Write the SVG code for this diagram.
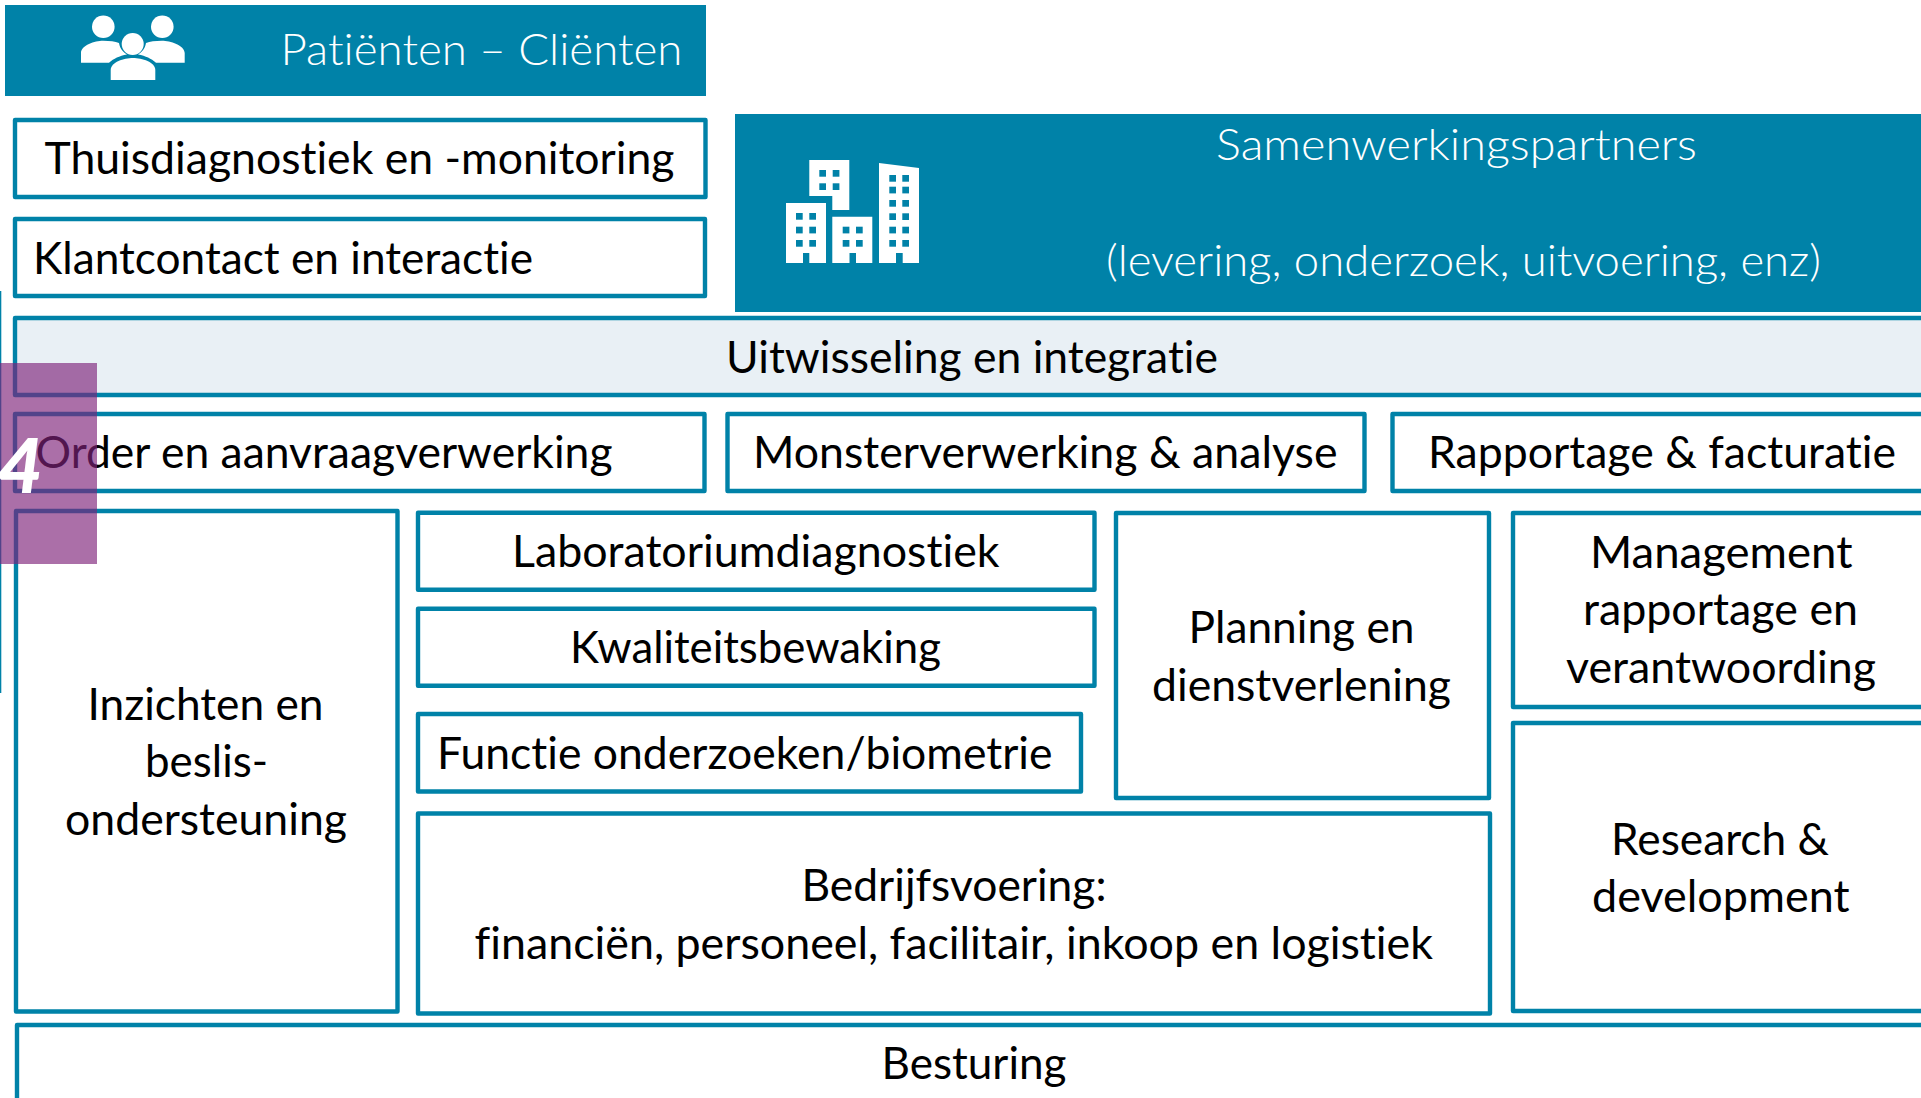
<svg xmlns="http://www.w3.org/2000/svg" width="1921" height="1098" viewBox="0 0 1921 1098">
<style>
.box{fill:#fff;stroke:#0082A8;stroke-width:4.4;stroke-linejoin:round}
.band{fill:#0082A8}
text{font-variant-ligatures:none}
.t,.l{transform:translateY(1px)}
.t{font-family:"Lato","Carlito","Liberation Sans",sans-serif;font-size:43.500px;fill:#000}
.l{font-family:"Lato","Carlito","Liberation Sans",sans-serif;font-size:44px;font-weight:300;fill:#fff}
.ic{fill:#fff}
.win{fill:#0082A8}
</style>
<defs>
<rect id="w" class="win" width="6.7" height="6.7"/>
</defs>
<rect width="1921" height="1098" fill="#fff"/>
<rect id="edge-line" x="0" y="291" width="1.3" height="402" fill="#0082A8"/>

<g id="patienten">
<rect class="band" x="5" y="5" width="701" height="91"/>
<g class="ic">
<circle cx="103.3" cy="26.7" r="11.3"/>
<circle cx="162.3" cy="26.7" r="11.3"/>
<path d="M81 62.7V53C81 45 95 40.7 103 40.7C110 40.7 115 41.5 119 43C120 49 123 52 127 54.5C119 56 114 58.500 109 62.700Z"/>
<path d="M184.700 62.700V53C184.700 45 170 40.700 162 40.700C155 40.700 150 41.500 146 43C145 49 142 52 138 54.500C146 56 151 58.500 156 62.700Z"/>
<circle cx="132.700" cy="44" r="11"/>
<path d="M110.700 80V70C110.700 62 124 58 133 58C142 58 155.300 62 155.300 70V80Z"/>
</g>
<text class="l" x="280.500" y="64" textLength="402" lengthAdjust="spacingAndGlyphs">Patiënten – Cliënten</text>
</g>

<g id="thuisdiagnostiek">
<rect class="box" x="15" y="120" width="690.500" height="77"/>
<text class="t" x="44.500" y="172.500" textLength="630" lengthAdjust="spacingAndGlyphs">Thuisdiagnostiek en -monitoring</text>
</g>

<g id="klantcontact">
<rect class="box" x="15" y="219" width="690" height="77"/>
<text class="t" x="33" y="272.500" textLength="500" lengthAdjust="spacingAndGlyphs">Klantcontact en interactie</text>
</g>

<g id="samenwerkingspartners">
<rect class="band" x="735" y="114" width="1186" height="198"/>
<g class="ic">
<path d="M809.300 160H849.300V210H832.300V196H809.300Z"/>
<path d="M786 203H826V263H809.300V253H803V263H786Z"/>
<path d="M832.300 216.700H872.300V263H856V253H849.500V263H832.300Z"/>
<path d="M879 163L919 168V263H902.700V253H896V263H879Z"/>
</g>
<use href="#w" x="819.300" y="170"/><use href="#w" x="832.700" y="170"/>
<use href="#w" x="819.300" y="183.300"/><use href="#w" x="832.700" y="183.300"/>
<use href="#w" x="796" y="213"/><use href="#w" x="809.300" y="213"/>
<use href="#w" x="796" y="226.700"/><use href="#w" x="809.300" y="226.700"/>
<use href="#w" x="796" y="240"/><use href="#w" x="809.300" y="240"/>
<use href="#w" x="842.700" y="226.700"/><use href="#w" x="856" y="226.700"/>
<use href="#w" x="842.700" y="240"/><use href="#w" x="856" y="240"/>
<use href="#w" x="889.300" y="175"/><use href="#w" x="902.300" y="175"/>
<use href="#w" x="889.300" y="186.700"/><use href="#w" x="902.300" y="186.700"/>
<use href="#w" x="889.300" y="200"/><use href="#w" x="902.300" y="200"/>
<use href="#w" x="889.300" y="213.300"/><use href="#w" x="902.300" y="213.300"/>
<use href="#w" x="889.300" y="226.700"/><use href="#w" x="902.300" y="226.700"/>
<use href="#w" x="889.300" y="240"/><use href="#w" x="902.300" y="240"/>
<text class="l" x="1216" y="159" textLength="481" lengthAdjust="spacingAndGlyphs">Samenwerkingspartners</text>
<text class="l" x="1106" y="275" textLength="715" lengthAdjust="spacingAndGlyphs">(levering, onderzoek, uitvoering, enz)</text>
</g>

<g id="uitwisseling">
<rect class="box" x="15" y="318" width="1910" height="77" style="fill:#E9F0F5"/>
<text class="t" x="726" y="372" textLength="492" lengthAdjust="spacingAndGlyphs">Uitwisseling en integratie</text>
</g>

<g id="order">
<rect class="box" x="15" y="414" width="689.500" height="77"/>
<text class="t" x="35.500" y="467" textLength="577" lengthAdjust="spacingAndGlyphs">Order en aanvraagverwerking</text>
</g>

<g id="monster">
<rect class="box" x="727.500" y="414" width="637" height="77"/>
<text class="t" x="753" y="467" textLength="584.500" lengthAdjust="spacingAndGlyphs">Monsterverwerking &amp; analyse</text>
</g>

<g id="rapportage">
<rect class="box" x="1392.500" y="414" width="540" height="77"/>
<text class="t" x="1428" y="467" textLength="468" lengthAdjust="spacingAndGlyphs">Rapportage &amp; facturatie</text>
</g>

<g id="inzichten">
<rect class="box" x="16" y="511" width="381.500" height="500.500"/>
<text class="t" x="87.500" y="719" textLength="236" lengthAdjust="spacingAndGlyphs">Inzichten en</text>
<text class="t" x="145" y="776" textLength="123" lengthAdjust="spacingAndGlyphs">beslis-</text>
<text class="t" x="65" y="834" textLength="282" lengthAdjust="spacingAndGlyphs">ondersteuning</text>
</g>

<g id="laboratorium">
<rect class="box" x="418" y="512.800" width="676.500" height="77"/>
<text class="t" x="512" y="566" textLength="487.500" lengthAdjust="spacingAndGlyphs">Laboratoriumdiagnostiek</text>
</g>

<g id="kwaliteit">
<rect class="box" x="418" y="608.800" width="676.500" height="77"/>
<text class="t" x="570" y="662" textLength="371" lengthAdjust="spacingAndGlyphs">Kwaliteitsbewaking</text>
</g>

<g id="functie">
<rect class="box" x="418" y="714" width="663" height="77.500"/>
<text class="t" x="437" y="768" textLength="615.500" lengthAdjust="spacingAndGlyphs">Functie onderzoeken/biometrie</text>
</g>

<g id="planning">
<rect class="box" x="1116" y="513" width="373" height="285"/>
<text class="t" x="1188.500" y="642" textLength="226" lengthAdjust="spacingAndGlyphs">Planning en</text>
<text class="t" x="1152" y="700" textLength="299" lengthAdjust="spacingAndGlyphs">dienstverlening</text>
</g>

<g id="management">
<rect class="box" x="1513" y="513" width="420" height="194"/>
<text class="t" x="1590" y="567" textLength="262.500" lengthAdjust="spacingAndGlyphs">Management</text>
<text class="t" x="1583" y="624" textLength="275" lengthAdjust="spacingAndGlyphs">rapportage en</text>
<text class="t" x="1566" y="682" textLength="310" lengthAdjust="spacingAndGlyphs">verantwoording</text>
</g>

<g id="research">
<rect class="box" x="1513" y="723" width="420" height="288"/>
<text class="t" x="1611" y="854" textLength="218" lengthAdjust="spacingAndGlyphs">Research &amp;</text>
<text class="t" x="1592" y="911" textLength="257.500" lengthAdjust="spacingAndGlyphs">development</text>
</g>

<g id="bedrijfsvoering">
<rect class="box" x="418" y="813.500" width="1072" height="200"/>
<text class="t" x="801.500" y="900" textLength="305" lengthAdjust="spacingAndGlyphs">Bedrijfsvoering:</text>
<text class="t" x="474.500" y="958" textLength="958.500" lengthAdjust="spacingAndGlyphs">financiën, personeel, facilitair, inkoop en logistiek</text>
</g>

<g id="besturing">
<rect class="box" x="17" y="1025" width="1920" height="100"/>
<text class="t" x="881.500" y="1078.300" textLength="185" lengthAdjust="spacingAndGlyphs">Besturing</text>
</g>

<g id="badge">
<rect x="0" y="363" width="97" height="201" fill="#7E2279" fill-opacity=".65"/>
<text x="-2" y="493" font-family="Lato,'Liberation Sans',sans-serif" font-size="76" font-weight="900" font-style="italic" fill="#fff" textLength="45" lengthAdjust="spacingAndGlyphs">4</text>
</g>
</svg>
